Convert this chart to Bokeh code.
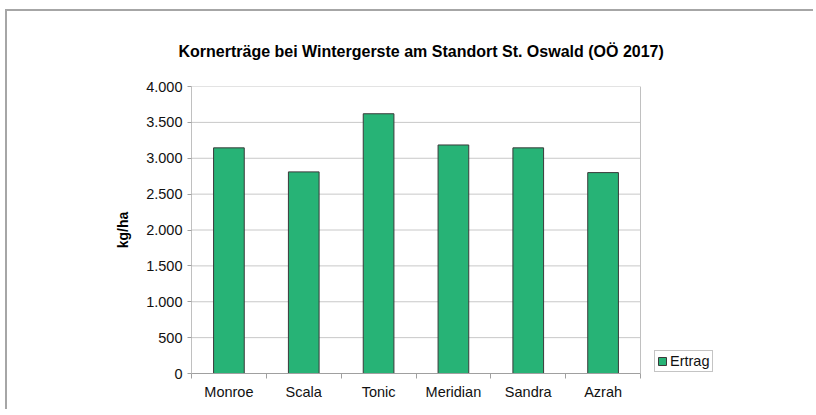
from bokeh.plotting import figure
from bokeh.models import FixedTicker, Legend, LegendItem, ColumnDataSource, Range1d, Span
from bokeh.embed import file_html
from bokeh.resources import INLINE

# ---- data ----
varieties = ["Monroe", "Scala", "Tonic", "Meridian", "Sandra", "Azrah"]
ertrag = [3145, 2810, 3620, 3185, 3145, 2800]
y_ticks = [0, 500, 1000, 1500, 2000, 2500, 3000, 3500, 4000]
y_tick_labels = ["0", "500", "1.000", "1.500", "2.000", "2.500", "3.000", "3.500", "4.000"]
title_text = "Kornerträge bei Wintergerste am Standort St. Oswald (OÖ 2017)"
y_title = "kg/ha"
series_name = "Ertrag"

FONT = "Liberation Sans"
GREEN = "#27b376"

n = len(varieties)
xpos = [i + 0.5 for i in range(n)]
source = ColumnDataSource(data=dict(x=xpos, y=ertrag, name=varieties))
grid_src = ColumnDataSource(data=dict(x0=[0] * len(y_ticks), x1=[n] * len(y_ticks),
                                      y=y_ticks))

# frame extends to the right so the legend can sit inside it; the plot area
# itself (grid, axis, border) is bounded to [0, n]
PLOT_W = 449
FRAME_W = 529
W = 808
x_end = n * FRAME_W / PLOT_W

p = figure(width=W, height=400, output_backend="svg", toolbar_location=None,
           x_range=Range1d(0, x_end), y_range=Range1d(0, 4000),
           min_border_left=184, min_border_right=W - 184 - FRAME_W,
           min_border_top=75, min_border_bottom=38,
           background_fill_color="white", border_fill_color="white")
p.styles = {"margin-left": "5px", "margin-top": "9px",
            "border-top": "2px solid #a6a6a6", "border-left": "2px solid #a6a6a6"}

p.title.text = title_text
p.title.text_font = FONT
p.title.text_font_size = "16px"
p.title.text_font_style = "bold"
p.title.text_color = "#000000"
p.title.align = "left"
p.title.offset = -13
p.title.standoff = 54

# horizontal grid lines limited to the plot area
p.segment(x0="x0", x1="x1", y0="y", y1="y", source=grid_src,
          line_color="#c8c8c8", line_width=1)

r = p.vbar(x="x", top="y", width=0.41, source=source, fill_color=GREEN,
           line_color="#3a3a3a", line_width=1)

# x axis
xa = p.xaxis[0]
xa.bounds = (0, n)
xa.ticker = FixedTicker(ticks=xpos, minor_ticks=list(range(n + 1)))
xa.major_label_overrides = {x: v for x, v in zip(xpos, varieties)}
xa.major_tick_out = 0
xa.major_tick_in = 0
xa.minor_tick_out = 5
xa.minor_tick_in = 0
xa.minor_tick_line_color = "#a0a0a0"
xa.axis_line_color = "#a0a0a0"
xa.major_label_text_font = FONT
xa.major_label_text_font_size = "14.5px"
xa.major_label_text_color = "#111111"
xa.major_label_standoff = 5

# y axis
ya = p.yaxis[0]
ya.ticker = FixedTicker(ticks=y_ticks)
ya.major_label_overrides = {t: l for t, l in zip(y_ticks, y_tick_labels)}
ya.major_tick_out = 4
ya.major_tick_in = 0
ya.minor_tick_out = 0
ya.minor_tick_in = 0
ya.major_tick_line_color = "#a0a0a0"
ya.axis_line_color = "#c0c0c0"
ya.major_label_text_font = FONT
ya.major_label_text_font_size = "14.5px"
ya.major_label_text_color = "#111111"
ya.major_label_standoff = 5
ya.axis_label = y_title
ya.axis_label_text_font = FONT
ya.axis_label_text_font_size = "14px"
ya.axis_label_text_font_style = "bold"
ya.axis_label_text_color = "#000000"
ya.axis_label_standoff = 12

p.xgrid.visible = False
p.ygrid.visible = False
p.outline_line_color = None

# right border of the plot area
p.add_layout(Span(location=n, dimension="height", line_color="#c0c0c0", line_width=1))

legend = Legend(items=[LegendItem(label=series_name, renderers=[r])],
                location=(463, 1), orientation="vertical",
                label_text_font=FONT, label_text_font_size="14.5px", label_text_color="#111111",
                glyph_width=10, glyph_height=10, label_standoff=3,
                padding=2, margin=0, spacing=0, label_height=14,
                border_line_color="#8a8a8a", border_line_width=1,
                background_fill_color="white", background_fill_alpha=1)
p.add_layout(legend, "center")

open("out.html", "w").write(file_html(p, INLINE))
